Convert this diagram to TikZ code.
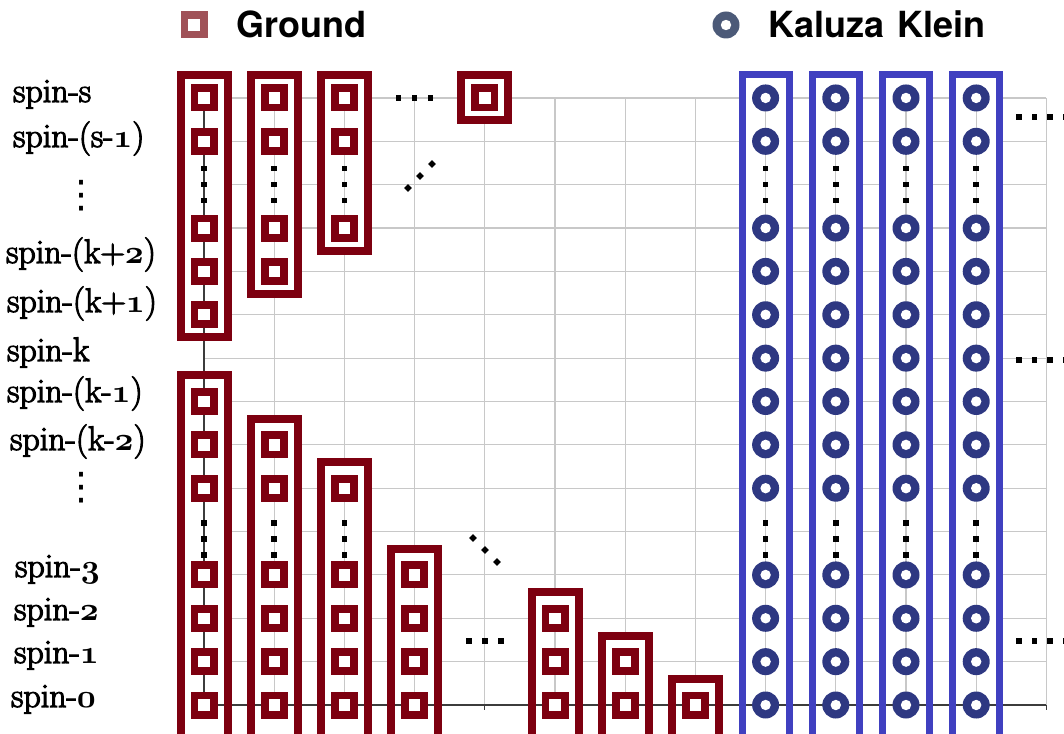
\documentclass[tikz,border=0pt]{standalone}
\usepackage{fontspec}
\newfontfamily\legfont{TeX Gyre Heros}
\newfontfamily\labfont{Latin Modern Roman}[FakeBold=3.2]
\newfontfamily\dotfont{DejaVu Sans}
\definecolor{gmar}{RGB}{125,0,16}
\definecolor{kblue}{RGB}{64,64,192}
\definecolor{knavy}{RGB}{46,56,130}
\definecolor{lgsq}{RGB}{160,82,88}
\definecolor{lgci}{RGB}{76,90,120}
\definecolor{gridc}{RGB}{200,200,200}
\definecolor{axisc}{RGB}{60,60,60}
\font\osfont=cmmib10 at 33pt
\newcommand\osn[1]{{\osfont #1}}
\def\X#1{(204+70.2*(#1))}
\def\Y#1{(705-43.36*(#1))}
\tikzset{
  sqmark/.style={rectangle, fill=#1, minimum size=27pt, inner sep=0pt, outer sep=0pt,
    path picture={\fill[white] ([xshift=-5.7pt,yshift=-5.7pt]path picture bounding box.center) rectangle ([xshift=5.7pt,yshift=5.7pt]path picture bounding box.center);}},
  cimark/.style={circle, fill=#1, minimum size=27pt, inner sep=0pt, outer sep=0pt,
    path picture={\fill[white] (path picture bounding box.center) circle[radius=5.2pt];}},
  gsq/.style={sqmark=gmar},
  kci/.style={cimark=knavy},
  gridline/.style={draw=gridc, line width=1.1pt},
  axisline/.style={draw=axisc, line width=1.2pt},
  sqdot/.style={fill=black, minimum size=5.5pt, inner sep=0pt, rectangle},
  dmdot/.style={fill=black, minimum size=5.5pt, inner sep=0pt, rectangle, rotate=45},
  lab/.style={anchor=base west, inner sep=0pt, font=\labfont\fontsize{34}{38}\selectfont},
  vlab/.style={inner sep=0pt, font=\dotfont\fontsize{38}{40}\selectfont},
  legt/.style={anchor=base west, inner sep=0pt, font=\legfont\bfseries\fontsize{36}{40}\selectfont},
}
\begin{document}
\begin{tikzpicture}[x=1pt,y=-1pt]
\useasboundingbox (0,0) rectangle (1064,733);
\clip (0,0) rectangle (1064,733);
% grid
\foreach \i in {0,...,14} \draw[gridline] ({\X{0}},{\Y{\i}}) -- ({\X{12}},{\Y{\i}});
\foreach \c in {0,...,12} \draw[gridline] ({\X{\c}},{\Y{14}}) -- ({\X{\c}},{\Y{0}});
\foreach \c in {0,...,12} \draw[axisline] ({\X{\c}},{\Y{0}}) -- ({\X{\c}},{\Y{0}+5});
% box fills (ground)
\def\gboxes{0/14/9, 0/7/-2, 1/14/10, 1/6/-2, 2/14/11, 2/5/-2, 3/3/-2, 4/14/14, 5/2/-2, 6/1/-2, 7/0/-2}
\foreach \c/\t/\b in \gboxes {
  \pgfmathsetmacro\topoff{ifthenelse(\t>8,23,26)}
  \fill[white] ({\X{\c}-23.5},{\Y{\t}-\topoff}) rectangle ({\X{\c}+23.5},{\Y{\b}+22.5});
}
\foreach \c in {8,...,11}
  \fill[white] ({\X{\c}-23.5},{\Y{14}-23}) rectangle ({\X{\c}+23.5},{\Y{-2}});
% column lines inside boxes
\foreach \c/\t/\b in {1/14/10, 1/6/0, 2/14/11, 2/5/0, 3/3/0, 5/2/0, 6/1/0, 7/0/0, 8/14/0, 9/14/0, 10/14/0, 11/14/0}
  \draw[gridline] ({\X{\c}},{\Y{\t}}) -- ({\X{\c}},{\Y{\b}});
\draw[axisline] ({\X{0}},{\Y{14}}) -- ({\X{0}},{\Y{0}});
\draw[axisline] ({\X{0}},{\Y{0}}) -- ({\X{12}},{\Y{0}});
% box borders
\foreach \c/\t/\b in \gboxes {
  \pgfmathsetmacro\topoff{ifthenelse(\t>8,23,26)}
  \draw[gmar, line width=8pt] ({\X{\c}-23.5},{\Y{\t}-\topoff}) rectangle ({\X{\c}+23.5},{\Y{\b}+22.5});
}
\foreach \c in {8,...,11}
  \draw[kblue, line width=7pt] ({\X{\c}-23.5},{\Y{14}-23.5}) rectangle ({\X{\c}+23.5},{\Y{-2}});
% ground markers
\foreach \c/\rows in {0/{14,13,11,10,9,7,6,5,3,2,1,0}, 1/{14,13,11,10,6,5,3,2,1,0}, 2/{14,13,11,5,3,2,1,0}, 3/{3,2,1,0}, 4/{14}, 5/{2,1,0}, 6/{1,0}, 7/{0}}
  \foreach \r in \rows
    \node[gsq] (g-\c-\r) at ({\X{\c}},{\Y{\r}}) {};
% KK markers
\foreach \c in {8,...,11}
  \foreach \r in {14,13,11,10,9,8,7,6,5,3,2,1,0}
    \node[kci] (k-\c-\r) at ({\X{\c}},{\Y{\r}}) {};
% vertical dots in columns
\foreach \c in {0,1,2,8,9,10,11} {
  \foreach \d in {-16,0,16} \node[sqdot] at ({\X{\c}},{\Y{12}+\d}) {};
}
\foreach \c in {0,1,2,8,9,10,11} {
  \foreach \d in {-16,0,16} \node[sqdot] at ({\X{\c}},{539+\d}) {};
}
% horizontal / diagonal ellipses
\foreach \d in {-16,0,16} \node[sqdot] at ({\X{3}+\d},{\Y{14}}) {};
\foreach \d in {-12,0,12} \node[dmdot] at ({420+\d},{176-\d}) {};
\foreach \d in {-16,0,16} \node[sqdot] at ({\X{4}+\d},641) {};
\foreach \d in {-12,0,12} \node[dmdot] at ({485+\d},{550+\d}) {};
\foreach \yy in {117,360,641}
  \foreach \d in {0,1,2,3} \node[sqdot] at ({1019+15.5*\d},\yy) {};
% labels
\node[lab] (l14) at (13,102) {spin-s};
\node[lab] (l13) at (13,147) {spin-(s-\osn{1})};
\node[vlab] (l12) at (81,196) {⋮};
\node[lab] (l10) at (6,263) {spin-(k+\osn{2})};
\node[lab] (l9) at (7,312) {spin-(k+\osn{1})};
\node[lab] (l8) at (7,361) {spin-k};
\node[lab] (l7) at (7,402) {spin-(k-\osn{1})};
\node[lab] (l6) at (10,450) {spin-(k-\osn{2})};
\node[vlab] (l5) at (81,488) {⋮};
\node[lab] (l3) at (15,577) {spin-\osn{3}};
\node[lab] (l2) at (14,620) {spin-\osn{2}};
\node[lab] (l1) at (14,663) {spin-\osn{1}};
\node[lab] (l0) at (11,707) {spin-\osn{0}};
% legend
\node[sqmark=lgsq] (legsq) at (194,25) {};
\node[legt] (legg) at (236,38) {Ground};
\node[cimark=lgci] (legci) at (726,25) {};
\node[legt] (legk) at (768,38) {Kaluza\hspace{3pt} Klein};
\end{tikzpicture}
\end{document}
